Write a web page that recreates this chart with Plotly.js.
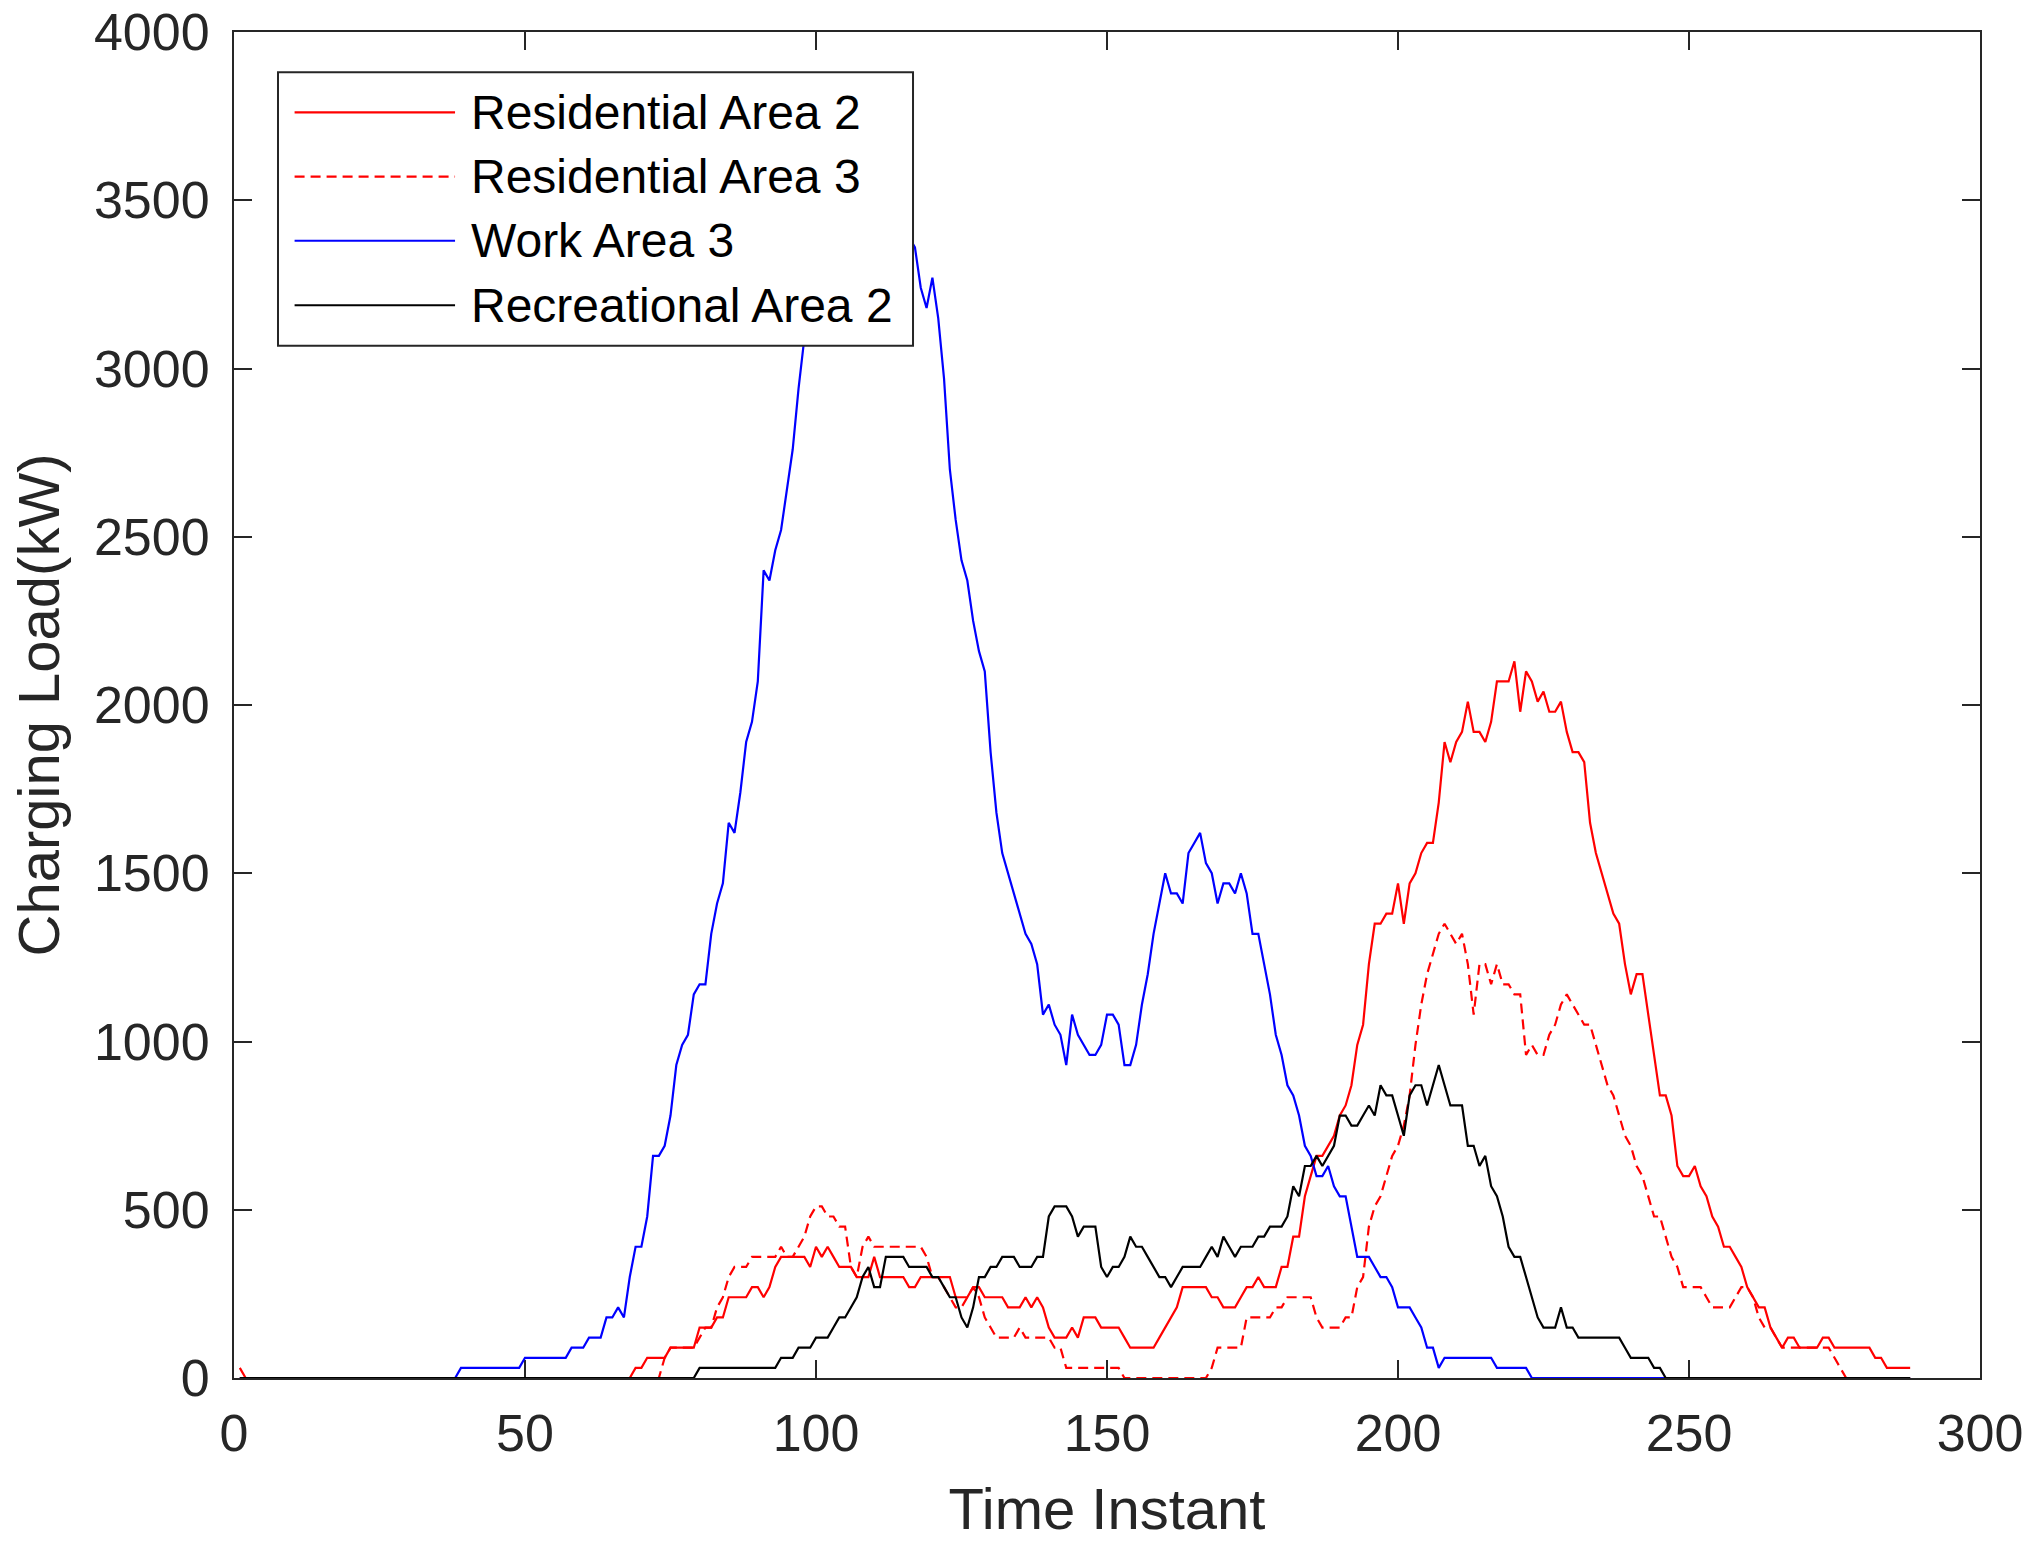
<!DOCTYPE html>
<html>
<head>
<meta charset="utf-8">
<script src="https://cdn.plot.ly/plotly-3.0.1.min.js"></script>
<style>
  html, body { margin: 0; padding: 0; background: #fff; }
  #chart { width: 2037px; height: 1551px; }
</style>
</head>
<body>
<div id="chart"></div>
<script>
// Time instants 1..288 (one day in 5-minute slots)
var timeInstant = [];
for (var i = 1; i <= 288; i++) timeInstant.push(i);

var seriesNames = ['Residential Area 2', 'Residential Area 3', 'Work Area 3', 'Recreational Area 2'];

// Charging load (kW), t = 1..288
var residential2 = [
  30,0,0,0,0,0,0,0,0,0,
  0,0,0,0,0,0,0,0,0,0,
  0,0,0,0,0,0,0,0,0,0,
  0,0,0,0,0,0,0,0,0,0,
  0,0,0,0,0,0,0,0,0,0,
  0,0,0,0,0,0,0,0,0,0,
  0,0,0,0,0,0,0,0,30,30,
  60,60,60,60,90,90,90,90,90,150,
  150,150,180,180,240,240,240,240,270,270,
  240,270,330,360,360,360,360,360,330,390,
  360,390,360,330,330,330,300,300,300,360,
  300,300,300,300,300,270,270,300,300,300,
  300,300,300,240,240,240,270,270,240,240,
  240,240,210,210,210,240,210,240,210,150,
  120,120,120,150,120,180,180,180,150,150,
  150,150,120,90,90,90,90,90,120,150,
  180,210,270,270,270,270,270,240,240,210,
  210,210,240,270,270,300,270,270,270,330,
  330,420,420,540,600,660,660,690,720,780,
  810,870,990,1050,1230,1350,1350,1380,1380,1470,
  1350,1470,1500,1560,1590,1590,1710,1890,1830,1890,
  1920,2010,1920,1920,1890,1950,2070,2070,2070,2130,
  1980,2100,2070,2010,2040,1980,1980,2010,1920,1860,
  1860,1830,1650,1560,1500,1440,1380,1350,1230,1140,
  1200,1200,1080,960,840,840,780,630,600,600,
  630,570,540,480,450,390,390,360,330,270,
  240,210,210,150,120,90,120,120,90,90,
  90,90,120,120,90,90,90,90,90,90,
  90,60,60,30,30,30,30,30
];

var residential3 = [
  0,0,0,0,0,0,0,0,0,0,
  0,0,0,0,0,0,0,0,0,0,
  0,0,0,0,0,0,0,0,0,0,
  0,0,0,0,0,0,0,0,0,0,
  0,0,0,0,0,0,0,0,0,0,
  0,0,0,0,0,0,0,0,0,0,
  0,0,0,0,0,0,0,0,0,0,
  0,0,0,60,90,90,90,90,90,120,
  150,150,210,240,300,330,330,330,360,360,
  360,360,360,390,360,360,390,420,480,510,
  510,480,480,450,450,330,300,390,420,390,
  390,390,390,390,390,390,390,390,360,300,
  300,270,240,210,210,240,270,240,180,150,
  120,120,120,120,150,120,120,120,120,120,
  90,90,30,30,30,30,30,30,30,30,
  30,30,0,0,0,0,0,0,0,0,
  0,0,0,0,0,0,0,30,90,90,
  90,90,90,180,180,180,180,180,210,210,
  240,240,240,240,240,180,150,150,150,150,
  180,180,270,300,450,510,540,600,660,690,
  750,840,990,1110,1200,1260,1320,1350,1320,1290,
  1320,1230,1080,1230,1230,1170,1230,1170,1170,1140,
  1140,960,990,960,960,1020,1050,1110,1140,1110,
  1080,1050,1050,990,930,870,840,780,720,690,
  630,600,540,480,480,420,360,330,270,270,
  270,270,240,210,210,210,210,240,270,270,
  240,180,150,150,120,90,90,90,90,90,
  90,90,90,90,60,30,0,0,0,0,
  0,0,0,0,0,0,0,0
];

var work3 = [
  0,0,0,0,0,0,0,0,0,0,
  0,0,0,0,0,0,0,0,0,0,
  0,0,0,0,0,0,0,0,0,0,
  0,0,0,0,0,0,0,0,30,30,
  30,30,30,30,30,30,30,30,30,60,
  60,60,60,60,60,60,60,90,90,90,
  120,120,120,180,180,210,180,300,390,390,
  480,660,660,690,780,930,990,1020,1140,1170,
  1170,1320,1410,1470,1650,1620,1740,1890,1950,2070,
  2400,2370,2460,2520,2640,2760,2940,3090,3180,3240,
  3210,3300,3270,3330,3390,3360,3420,3450,3390,3480,
  3420,3450,3390,3420,3330,3390,3360,3240,3180,3270,
  3150,2970,2700,2550,2430,2370,2250,2160,2100,1860,
  1680,1560,1500,1440,1380,1320,1290,1230,1080,1110,
  1050,1020,930,1080,1020,990,960,960,990,1080,
  1080,1050,930,930,990,1110,1200,1320,1410,1500,
  1440,1440,1410,1560,1590,1620,1530,1500,1410,1470,
  1470,1440,1500,1440,1320,1320,1230,1140,1020,960,
  870,840,780,690,660,600,600,630,570,540,
  540,450,360,360,360,330,300,300,270,210,
  210,210,180,150,90,90,30,60,60,60,
  60,60,60,60,60,60,30,30,30,30,
  30,30,0,0,0,0,0,0,0,0,
  0,0,0,0,0,0,0,0,0,0,
  0,0,0,0,0,0,0,0,0,0,
  0,0,0,0,0,0,0,0,0,0,
  0,0,0,0,0,0,0,0,0,0,
  0,0,0,0,0,0,0,0,0,0,
  0,0,0,0,0,0,0,0
];

var recreational2 = [
  0,0,0,0,0,0,0,0,0,0,
  0,0,0,0,0,0,0,0,0,0,
  0,0,0,0,0,0,0,0,0,0,
  0,0,0,0,0,0,0,0,0,0,
  0,0,0,0,0,0,0,0,0,0,
  0,0,0,0,0,0,0,0,0,0,
  0,0,0,0,0,0,0,0,0,0,
  0,0,0,0,0,0,0,0,0,30,
  30,30,30,30,30,30,30,30,30,30,
  30,30,30,60,60,60,90,90,90,120,
  120,120,150,180,180,210,240,300,330,270,
  270,360,360,360,360,330,330,330,330,300,
  300,270,240,240,180,150,210,300,300,330,
  330,360,360,360,330,330,330,360,360,480,
  510,510,510,480,420,450,450,450,330,300,
  330,330,360,420,390,390,360,330,300,300,
  270,300,330,330,330,330,360,390,360,420,
  390,360,390,390,390,420,420,450,450,450,
  480,570,540,630,630,660,630,660,690,780,
  780,750,750,780,810,780,870,840,840,780,
  720,840,870,870,810,870,930,870,810,810,
  810,690,690,630,660,570,540,480,390,360,
  360,300,240,180,150,150,150,210,150,150,
  120,120,120,120,120,120,120,120,90,60,
  60,60,60,30,30,0,0,0,0,0,
  0,0,0,0,0,0,0,0,0,0,
  0,0,0,0,0,0,0,0,0,0,
  0,0,0,0,0,0,0,0,0,0,
  0,0,0,0,0,0,0,0
];

var seriesValues = [residential2, residential3, work3, recreational2];
var seriesColors = ['#ff0000', '#ff0000', '#0000ff', '#000000'];
var seriesDash = ['solid', '10px,6px', 'solid', 'solid'];

var axisColor = '#262626';
var fontFamily = '"Liberation Sans", Arial, Helvetica, sans-serif';

var data = seriesValues.map(function (vals, k) {
    return {
        x: timeInstant,
        y: vals,
        type: 'scatter',
        mode: 'lines',
        name: seriesNames[k],
        line: { color: seriesColors[k], width: 2.2, dash: seriesDash[k] },
        hoverinfo: 'skip'
    };
});

// MATLAB-style legend box with long line samples
var legendRows = [0.9403, 0.8925, 0.8449, 0.7970];
var shapes = [{
    type: 'rect', xref: 'paper', yref: 'paper',
    x0: 0.0252, x1: 0.3889, y0: 0.7669, y1: 0.9701,
    fillcolor: 'white', line: { color: axisColor, width: 2 }, layer: 'above'
}];
var annotations = [];
seriesNames.forEach(function (name, k) {
    shapes.push({
        type: 'line', xref: 'paper', yref: 'paper',
        x0: 0.0347, x1: 0.1266, y0: legendRows[k], y1: legendRows[k],
        line: { color: seriesColors[k], width: 2.2, dash: seriesDash[k] },
        layer: 'above'
    });
    annotations.push({
        xref: 'paper', yref: 'paper',
        x: 0.1345, y: legendRows[k],
        xanchor: 'left', yanchor: 'middle',
        text: name, showarrow: false,
        font: { family: fontFamily, size: 48, color: '#000000' }
    });
});

var axisCommon = {
    ticks: 'inside',
    ticklen: 18,
    tickwidth: 2,
    tickcolor: axisColor,
    showline: true,
    linewidth: 2,
    linecolor: axisColor,
    mirror: 'ticks',
    showgrid: false,
    zeroline: false,
    layer: 'below traces',
    tickfont: { family: fontFamily, size: 52, color: axisColor }
};

var layout = {
    width: 2037,
    height: 1551,
    margin: { l: 234, r: 57, t: 32, b: 173 },
    paper_bgcolor: 'white',
    plot_bgcolor: 'white',
    showlegend: false,
    xaxis: Object.assign({}, axisCommon, {
        range: [0, 300],
        tick0: 0,
        dtick: 50,
        ticklabelstandoff: 9,
        title: { text: 'Time Instant', font: { family: fontFamily, size: 58, color: axisColor }, standoff: 27 }
    }),
    yaxis: Object.assign({}, axisCommon, {
        range: [0, 4000],
        tick0: 0,
        dtick: 500,
        ticklabelstandoff: 12,
        title: { text: 'Charging Load(kW)', font: { family: fontFamily, size: 58, color: axisColor }, standoff: 16 }
    }),
    shapes: shapes,
    annotations: annotations
};

Plotly.newPlot('chart', data, layout, { displayModeBar: false, staticPlot: true });
</script>
</body>
</html>
